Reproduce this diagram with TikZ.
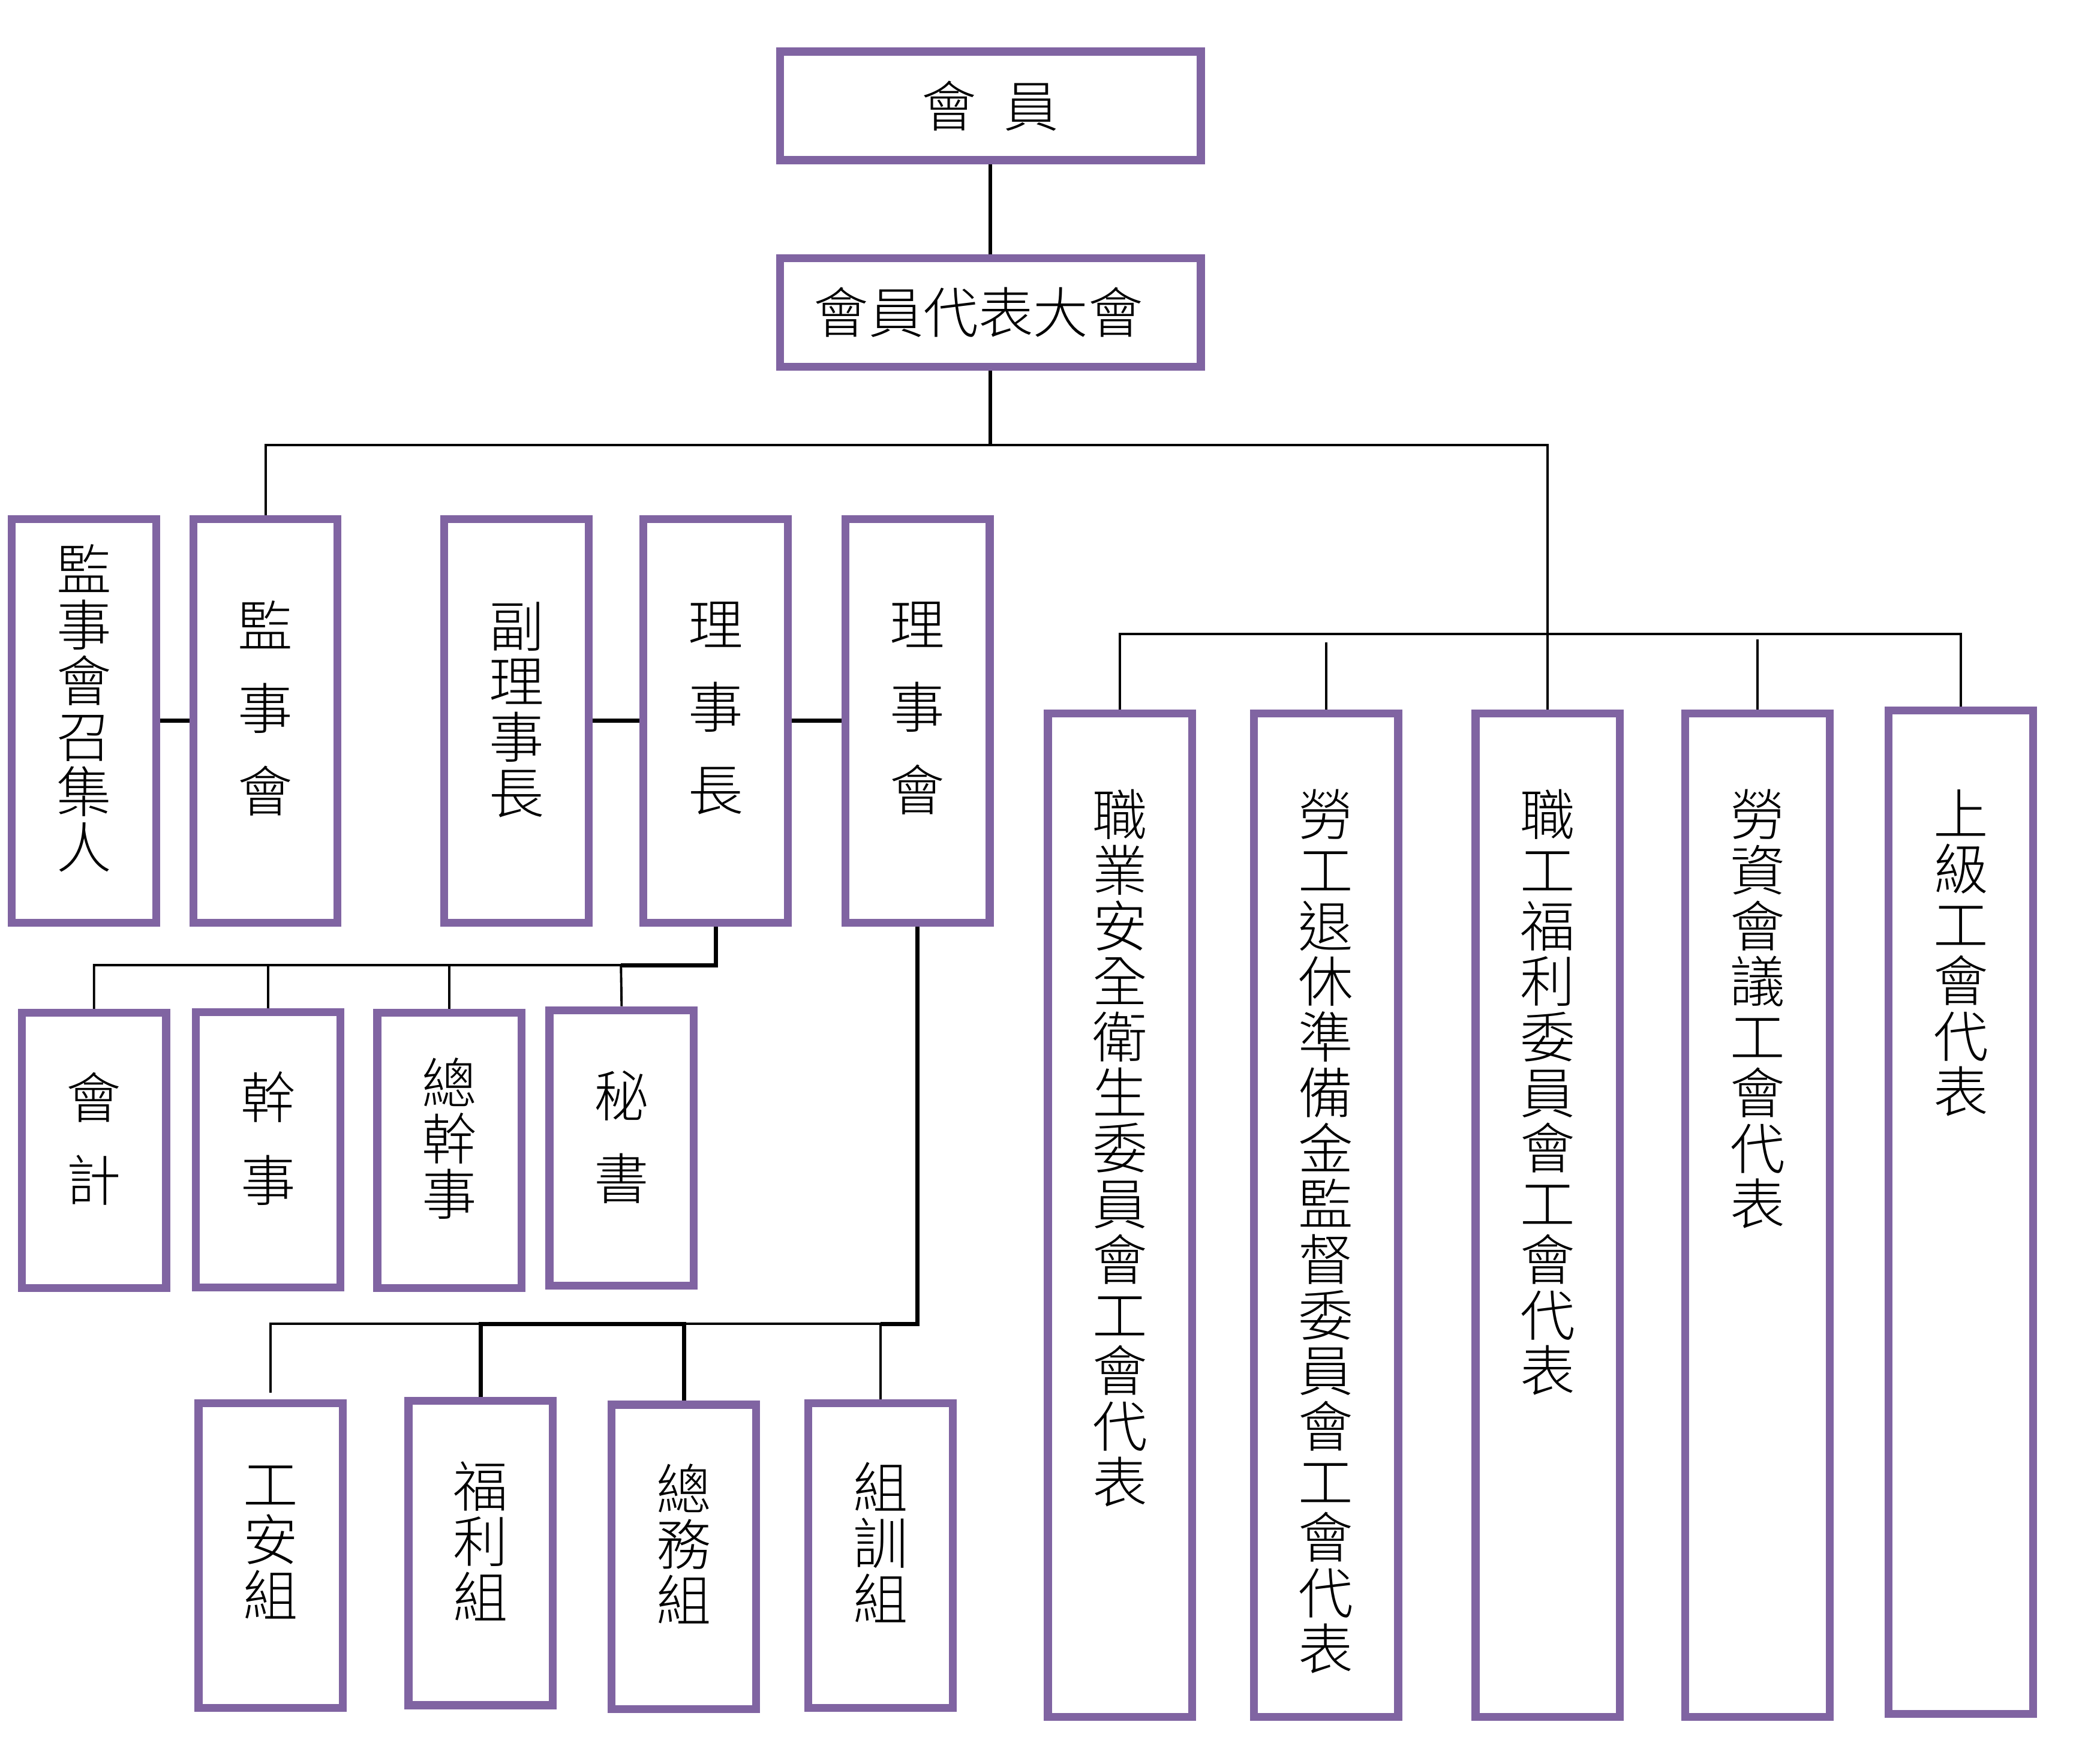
\documentclass[tikz,border=0pt]{standalone}
\usepackage{fontspec}
\newfontfamily\cjk{Noto Sans CJK TC}[UprightFont={* Light}]
\usetikzlibrary{positioning,calc}
\definecolor{boxpurple}{HTML}{8064A2}
\tikzset{
  box/.style={draw=boxpurple, line width=3.4pt, fill=white, inner sep=0pt, minimum width=21.8mm},
  widebox/.style={box, minimum width=63.6mm, minimum height=16.4mm, font=\cjk\fontsize{23.6}{23.9}\selectfont},
  vtext/.style={align=center, inner sep=0pt, font=\cjk\fontsize{23.6}{23.9}\selectfont},
  vloose/.style={align=center, inner sep=0pt, font=\cjk\fontsize{23.6}{35.6}\selectfont},
  conn/.style={line width=1pt},
  trunk/.style={line width=1.6pt},
  thickconn/.style={line width=1.8pt}
}

\begin{document}
\begin{tikzpicture}[x=0.2mm, y=-0.2mm]
    \fill[white] (0,0) rectangle (1568,1332);
    \useasboundingbox (0,0) rectangle (1568,1332);

    % top
    \node[widebox] (hy) at (748,80) {會\hspace{0.5em}員};
    \node[widebox] (dbdh) at (748,236) {會員代表大會\kern3.6mm\relax};

    % supervisors and council
    \node[box, minimum height=61mm] (jzr) at (63.5,544.5) {};
    \node[vtext] (jzr-t) at (63.5,535) {監\\事\\會\\召\\集\\人};
    \node[box, minimum height=61mm] (jsh) at (200.5,544.5) {};
    \node[vloose] (jsh-t) at (200.5,535) {監\\事\\會};
    \node[box, minimum height=61mm] (flsz) at (390,544.5) {};
    \node[vtext] (flsz-t) at (390,536) {副\\理\\事\\長};
    \node[box, minimum height=61mm] (lsz) at (540.5,544.5) {};
    \node[vloose] (lsz-t) at (540.5,535) {理\\事\\長};
    \node[box, minimum height=61mm] (lsh) at (693,544.5) {};
    \node[vloose] (lsh-t) at (693,535) {理\\事\\會};

    % staff
    \node[box, minimum height=41.6mm] (kj) at (71,869) {};
    \node[vloose] (kj-t) at (71,860) {會\\計};
    \node[box, minimum height=41.6mm] (gs) at (202.5,868.5) {};
    \node[vloose] (gs-t) at (202.5,860) {幹\\事};
    \node[box, minimum height=41.6mm] (zgs) at (339.5,869) {};
    \node[vtext] (zgs-t) at (339.5,860) {總\\幹\\事};
    \node[box, minimum height=41.6mm] (ms) at (469.5,867) {};
    \node[vloose] (ms-t) at (469.5,859) {秘\\書};

    % groups
    \node[box, minimum height=46mm] (gaz) at (204.5,1175) {};
    \node[vtext] (gaz-t) at (204.5,1165) {工\\安\\組};
    \node[box, minimum height=46mm] (flz) at (363,1173) {};
    \node[vtext] (flz-t) at (363,1164) {福\\利\\組};
    \node[box, minimum height=46mm] (zwz) at (516.5,1176) {};
    \node[vtext] (zwz-t) at (516.5,1166) {總\\務\\組};
    \node[box, minimum height=46mm] (zxz) at (665,1175) {};
    \node[vtext] (zxz-t) at (665,1165) {組\\訓\\組};

    % representatives
    \node[box, minimum height=151.6mm] (zyw) at (846,918) {};
    \node[vtext, anchor=north] (zyw-t) at (846,596) {職\\業\\安\\全\\衛\\生\\委\\員\\會\\工\\會\\代\\表};
    \node[box, minimum height=151.6mm] (ltw) at (1001.5,918) {};
    \node[vtext, anchor=north] (ltw-t) at (1001.5,596) {勞\\工\\退\\休\\準\\備\\金\\監\\督\\委\\員\\會\\工\\會\\代\\表};
    \node[box, minimum height=151.6mm] (zfw) at (1169,918) {};
    \node[vtext, anchor=north] (zfw-t) at (1169,596) {職\\工\\福\\利\\委\\員\\會\\工\\會\\代\\表};
    \node[box, minimum height=151.6mm] (lzw) at (1327.5,918) {};
    \node[vtext, anchor=north] (lzw-t) at (1327.5,596) {勞\\資\\會\\議\\工\\會\\代\\表};
    \node[box, minimum height=151.6mm] (sjw) at (1481,915.5) {};
    \node[vtext, anchor=north] (sjw-t) at (1481,596) {上\\級\\工\\會\\代\\表};

    % joints
    \coordinate (j1) at (748,336);
    \coordinate (j2) at (1169,479);
    \coordinate (j3) at (469,729);
    \coordinate (j4) at (665,1000);

    % connectors
    \draw[trunk] (hy) -- (dbdh);
    \draw[trunk] (dbdh.south) -- (j1);
    \draw[conn] (jsh.north) |- (j1) -| (zfw.north);
    \draw[conn] (zyw.north) |- (j2) -| (sjw.north);
    \draw[conn] (ltw.north |- 0,485) -- (ltw.north);
    \draw[conn] (lzw.north |- 0,483) -- (lzw.north);

    \draw[thickconn] (jzr) -- (jsh);
    \draw[thickconn] (flsz) -- (lsz);
    \draw[thickconn] (lsz) -- (lsh);

    \draw[thickconn] (lsz.south) |- (j3);
    \draw[conn] (kj.north) |- (j3) -- (ms.north);
    \draw[conn] (gs.north) -- (gs.north |- j3);
    \draw[conn] (zgs.north) -- (zgs.north |- j3);

    \draw[thickconn] (lsh.south) |- (j4);
    \draw[conn] (gaz.north |- 0,1052) |- (j4) -- (zxz.north);
    \draw[thickconn] (flz.north) |- (zwz.north |- j4) -- (zwz.north);
\end{tikzpicture}
\end{document}
